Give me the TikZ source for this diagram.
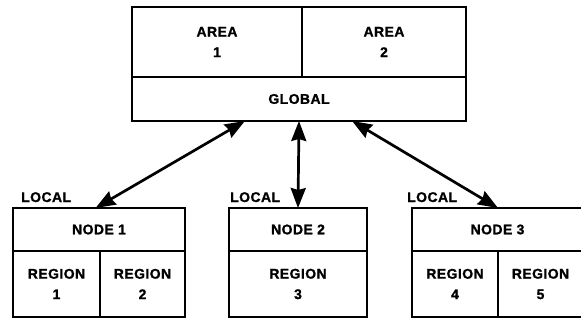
\documentclass[tikz,border=0pt]{standalone}
\usepackage{fontspec}
\setmainfont{Liberation Sans}[LetterSpace=3,BoldFeatures={FakeBold=1.2}]
\usetikzlibrary{arrows.meta,calc}

\tikzset{
  cell/.style={draw, line width=2.7pt, inner sep=0pt, outer sep=0pt,
    align=center, font=\bfseries\fontsize{14}{20.5}\selectfont},
  tag/.style={inner sep=0pt, anchor=base west,
    font=\bfseries\fontsize{14}{20.5}\selectfont},
  link/.style={line width=2.7pt,
    {Stealth[length=20pt,width=15pt,inset=2pt]}-{Stealth[length=20pt,width=15pt,inset=2pt]}},
}

\begin{document}
\begin{tikzpicture}[x=1pt,y=-1pt]
\useasboundingbox (0,0) rectangle (581,322);

% global level
\node[cell, minimum width=170pt, minimum height=70pt] (area1) at (217,42) {AREA\\1};
\node[cell, minimum width=164pt, minimum height=70pt] (area2) at (384,42) {AREA\\2};
\node[cell, minimum width=334pt, minimum height=44pt] (global) at (299,99) {GLOBAL};

% node 1
\node[cell, minimum width=172pt, minimum height=43pt] (n1) at (99,229.5) {NODE 1};
\node[cell, minimum width=87pt, minimum height=66pt] (r1) at (56.5,284) {REGION\\1};
\node[cell, minimum width=85pt, minimum height=66pt] (r2) at (142.5,284) {REGION\\2};

% node 2
\node[cell, minimum width=138pt, minimum height=43pt] (n2) at (298,229.5) {NODE 2};
\node[cell, minimum width=138pt, minimum height=66pt] (r3) at (298,284) {REGION\\3};

% node 3
\node[cell, minimum width=171pt, minimum height=43pt] (n3) at (497.5,229.5) {NODE 3};
\node[cell, minimum width=86pt, minimum height=66pt] (r4) at (455,284) {REGION\\4};
\node[cell, minimum width=85pt, minimum height=66pt] (r5) at (540.5,284) {REGION\\5};

% level labels
\node[tag] (l1) at (21,202) {LOCAL};
\node[tag] (l2) at (230,202) {LOCAL};
\node[tag] (l3) at (407,202) {LOCAL};

% links between the global level and the nodes
\draw[link] ($(n1.north west)!0.48!(n1.north east)$) -- ($(global.south west)!0.338!(global.south east)$);
\draw[link] (n2.north) -- (global.south);
\draw[link] ($(n3.north west)!0.503!(n3.north east)$) -- ($(global.south west)!0.659!(global.south east)$);
\end{tikzpicture}
\end{document}
